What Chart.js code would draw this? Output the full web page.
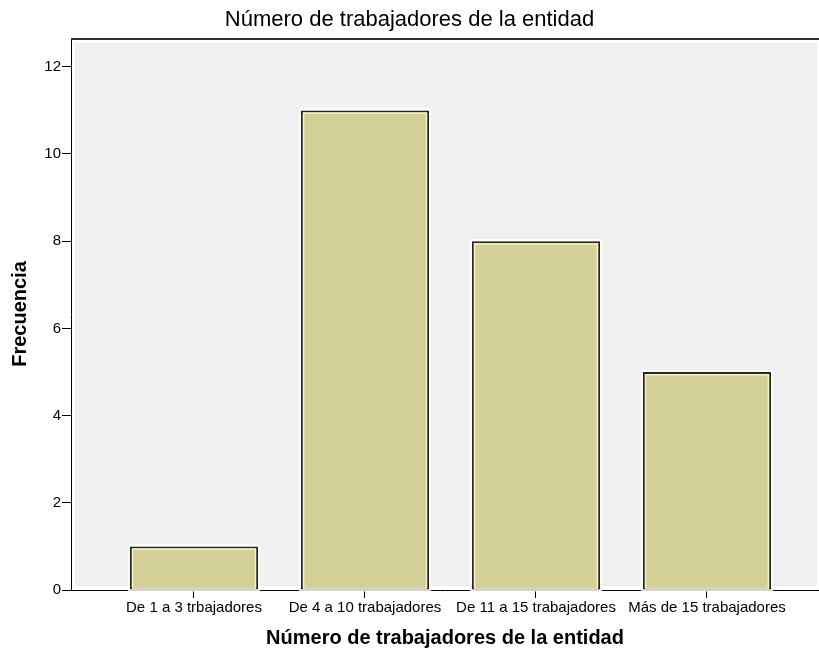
<!DOCTYPE html>
<html>
<head>
<meta charset="utf-8">
<script src="https://cdn.jsdelivr.net/npm/chart.js@4.4.1/dist/chart.umd.min.js"></script>
<style>
  html, body { margin: 0; padding: 0; background: #ffffff; }
  #wrap { width: 819px; height: 655px; }
</style>
</head>
<body>
<div id="wrap"><canvas id="chart" width="819" height="655"></canvas></div>
<script>
// Datos del gráfico
const categorias = ['De 1 a 3 trbajadores', 'De 4 a 10 trabajadores', 'De 11 a 15 trabajadores', 'Más de 15 trabajadores'];
const frecuencias = [1, 11, 8, 5];
const ticksY = [0, 2, 4, 6, 8, 10, 12];

const FONT = "'Liberation Sans', Arial, sans-serif";

// fondo gris del área de trazado y borde superior
const marcoPlugin = {
    id: 'marco',
    beforeDatasetsDraw(chart) {
        const { ctx, chartArea: a } = chart;
        ctx.save();
        ctx.fillStyle = '#f0f0f0';
        ctx.fillRect(a.left + 4, a.top + 5, a.right - a.left - 6, a.bottom - a.top - 9);
        ctx.strokeStyle = '#333333';
        ctx.lineWidth = 2;
        ctx.beginPath();
        ctx.moveTo(a.left, a.top + 1);
        ctx.lineTo(a.right, a.top + 1);
        ctx.stroke();
        // halo blanco alrededor de las barras
        const meta = chart.getDatasetMeta(0);
        ctx.strokeStyle = 'rgba(255, 255, 255, 0.85)';
        ctx.lineWidth = 2;
        meta.data.forEach(bar => {
            const p = bar.getProps(['x', 'y', 'base', 'width'], true);
            ctx.strokeRect(p.x - p.width / 2 - 1, p.y - 1, p.width + 2, p.base - p.y + 2);
        });
        ctx.restore();
    },
    afterDatasetsDraw(chart) {
        const { ctx } = chart;
        const meta = chart.getDatasetMeta(0);
        ctx.save();
        ctx.strokeStyle = 'rgba(250, 244, 185, 0.9)';
        ctx.lineWidth = 1.5;
        meta.data.forEach(bar => {
            const p = bar.getProps(['x', 'y', 'base', 'width'], true);
            ctx.strokeRect(p.x - p.width / 2 + 2.75, p.y + 2.75, p.width - 5.5, p.base - p.y - 4);
        });
        ctx.restore();
    }
};

new Chart(document.getElementById('chart'), {
    type: 'bar',
    data: {
        datasets: [{
            data: categorias.map((c, i) => ({ x: i, y: frecuencias[i] })),
            backgroundColor: '#d3cf98',
            borderColor: '#262626',
            borderWidth: 2,
            borderSkipped: false,
            barPercentage: 0.75,
            categoryPercentage: 1
        }]
    },
    options: {
        responsive: false,
        animation: false,
        layout: { padding: 0 },
        plugins: {
            legend: { display: false },
            tooltip: { enabled: false },
            title: {
                display: true,
                text: 'Número de trabajadores de la entidad',
                color: '#000000',
                font: { family: FONT, size: 22, weight: 'normal' },
                padding: { top: 7, bottom: 4.6 }
            }
        },
        scales: {
            x: {
                type: 'linear',
                offset: false,
                min: -0.7193,
                max: 3.655,
                afterBuildTicks: scale => { scale.ticks = categorias.map((c, i) => ({ value: i })); },
                afterFit: scale => { scale.height = 65; },
                grid: { offset: false, drawOnChartArea: false, drawTicks: true, tickLength: 8, color: '#000000', lineWidth: 1 },
                border: { display: true, color: '#000000', width: 1 },
                ticks: {
                    autoSkip: false,
                    maxRotation: 0,
                    padding: 1,
                    color: '#000000',
                    font: { family: FONT, size: 15 },
                    callback: value => categorias[value]
                },
                title: {
                    display: true,
                    text: 'Número de trabajadores de la entidad',
                    color: '#000000',
                    font: { family: FONT, size: 20, weight: 'bold' },
                    padding: { top: 0, bottom: 5 }
                }
            },
            y: {
                min: 0,
                max: 12.66,
                afterBuildTicks: scale => { scale.ticks = ticksY.map(v => ({ value: v })); },
                afterFit: scale => { scale.width = 71; },
                grid: { drawOnChartArea: false, drawTicks: true, tickLength: 9, color: '#000000', lineWidth: 1 },
                border: { display: true, color: '#000000', width: 1 },
                ticks: {
                    padding: 1,
                    color: '#000000',
                    font: { family: FONT, size: 15 }
                },
                title: {
                    display: true,
                    text: 'Frecuencia',
                    color: '#000000',
                    font: { family: FONT, size: 20, weight: 'bold' },
                    padding: { top: 8, bottom: 0 }
                }
            }
        }
    },
    plugins: [marcoPlugin]
});
</script>
</body>
</html>
